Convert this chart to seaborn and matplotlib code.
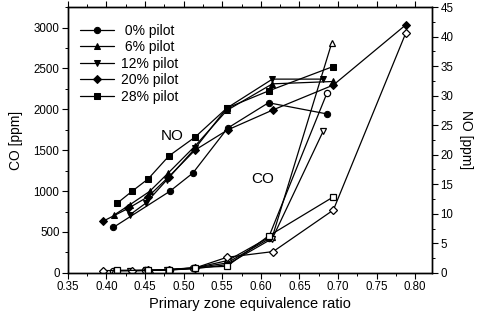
import matplotlib
matplotlib.use("Agg")
import matplotlib.pyplot as plt
import seaborn as sns
from matplotlib.ticker import MultipleLocator

SERIES = [" 0% pilot", " 6% pilot", "12% pilot", "20% pilot", "28% pilot"]
MARKERS = ["o", "^", "v", "D", "s"]

# NO (right axis, filled markers)
NO_PHI = [
    [0.409, 0.482, 0.512, 0.557, 0.610, 0.686],
    [0.410, 0.430, 0.456, 0.480, 0.515, 0.556, 0.615, 0.694],
    [0.430, 0.451, 0.478, 0.515, 0.556, 0.615, 0.681],
    [0.395, 0.428, 0.454, 0.481, 0.515, 0.557, 0.616, 0.694, 0.788],
    [0.414, 0.433, 0.454, 0.481, 0.515, 0.556, 0.610, 0.693],
]
NO_PPM = [
    [7.7, 13.8, 16.9, 24.5, 28.8, 26.9],
    [9.8, 11.5, 13.8, 16.9, 21.5, 27.5, 32.0, 32.4],
    [9.8, 11.8, 15.7, 21.1, 27.9, 32.8, 32.8],
    [8.7, 10.9, 12.9, 16.3, 20.8, 24.2, 27.6, 31.8, 42.0],
    [11.8, 13.8, 15.9, 19.8, 23.0, 27.9, 30.8, 34.9],
]

# CO (left axis, open markers)
CO_PHI = [
    [0.409, 0.450, 0.482, 0.512, 0.557, 0.610, 0.686],
    [0.410, 0.456, 0.480, 0.515, 0.556, 0.615, 0.692],
    [0.430, 0.451, 0.478, 0.515, 0.556, 0.615, 0.681],
    [0.395, 0.433, 0.454, 0.481, 0.515, 0.556, 0.616, 0.694, 0.788],
    [0.414, 0.454, 0.481, 0.515, 0.556, 0.610, 0.693],
]
CO_PPM = [
    [28, 30, 35, 55, 150, 430, 2204],
    [25, 30, 40, 60, 120, 440, 2813],
    [25, 30, 35, 50, 100, 420, 1735],
    [28, 28, 30, 40, 60, 190, 260, 768, 2935],
    [30, 30, 40, 65, 80, 450, 923],
]

sns.set_theme(style="white")
plt.rcParams["font.family"] = ["Liberation Sans", "DejaVu Sans"]
plt.rcParams["text.color"] = "black"
plt.rcParams["axes.labelcolor"] = "black"

fig = plt.figure(figsize=(4.78, 3.21), dpi=100, facecolor="white")
ax = fig.add_axes([0.142, 0.150, 0.762, 0.828])
ax2 = ax.twinx()

for i, name in enumerate(SERIES):
    sns.lineplot(x=CO_PHI[i], y=CO_PPM[i], ax=ax, color="black", linewidth=0.9,
                 marker=MARKERS[i], markersize=4.5, markerfacecolor="white",
                 markeredgecolor="black", markeredgewidth=0.9, sort=False)
    sns.lineplot(x=NO_PHI[i], y=NO_PPM[i], ax=ax2, color="black", linewidth=0.9,
                 marker=MARKERS[i], markersize=4.5, markerfacecolor="black",
                 markeredgecolor="black", label=name, sort=False)

ax.set_xlim(0.35, 0.822)
ax.set_ylim(0, 3250)
ax2.set_ylim(0, 45)

ax.xaxis.set_major_locator(MultipleLocator(0.05))
ax.xaxis.set_minor_locator(MultipleLocator(0.025))
ax.yaxis.set_major_locator(MultipleLocator(500))
ax.yaxis.set_minor_locator(MultipleLocator(250))
ax2.yaxis.set_major_locator(MultipleLocator(5))
ax2.yaxis.set_minor_locator(MultipleLocator(2.5))
ax.xaxis.set_major_formatter("{x:.2f}")

ax.tick_params(axis="both", which="both", direction="out", colors="black", labelsize=8.3,
               bottom=True, left=True, top=True, right=False)
ax.tick_params(axis="x", which="both", top=True, labeltop=False)
ax.tick_params(which="major", length=4, width=0.8, pad=2)
ax.tick_params(which="minor", length=2, width=0.7)
ax2.tick_params(axis="y", which="both", direction="out", right=True, colors="black", labelsize=8.3)
ax2.tick_params(which="major", length=4, width=0.8, pad=2)
ax2.tick_params(which="minor", length=2, width=0.7)

for a in (ax, ax2):
    for s in a.spines.values():
        s.set_color("black")
        s.set_linewidth(1.0)

ax.set_xlabel("Primary zone equivalence ratio", fontsize=10.5, labelpad=3)
ax.set_ylabel("CO [ppm]", fontsize=10, labelpad=8)
ax2.set_ylabel("NO [ppm]", fontsize=10, rotation=270, labelpad=14)

ax.text(0.485, 1670, "NO", fontsize=11, ha="center", va="center")
ax.text(0.603, 1146, "CO", fontsize=11, ha="center", va="center")

ax2.legend(loc="upper left", bbox_to_anchor=(0.0, 0.985), frameon=False, fontsize=10,
           handlelength=2.4, handletextpad=0.5, labelspacing=0.18, borderaxespad=0.5)

fig.savefig("out.png", dpi=100, facecolor="white")
